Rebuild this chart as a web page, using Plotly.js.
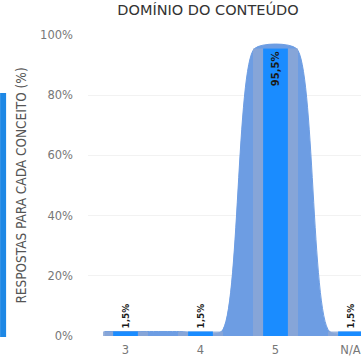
<!DOCTYPE html>
<html><head><meta charset="utf-8">
<script src="https://cdn.plot.ly/plotly-3.0.1.min.js"></script>
<style>html,body{margin:0;padding:0;overflow:hidden;background:#fff;width:361px;height:364px}#c{width:400px;height:364px}</style>
</head><body><div id="c"></div>
<script>
const categories = ['3', '4', '5', 'N/A'];
const values = [1.5, 1.5, 95.5, 1.5];
const yTicks = [0, 20, 40, 60, 80, 100];
const yTickLabels = ['0%', '20%', '40%', '60%', '80%', '100%'];

const idx = categories.map((c, i) => i);
function plateau(half) {
  const xs = [], ys = [];
  idx.forEach((i) => { xs.push(i - half, i + half); ys.push(values[i], values[i]); });
  return {x: xs, y: ys};
}
const outer = plateau(0.28);
const labels = values.map(v => v.toString().replace('.', ',') + '%');

const font = "'DejaVu Sans', sans-serif";
const cond = "'DejaVu Sans Condensed', 'DejaVu Sans', sans-serif";
const lblFont = {family: font, size: 10, color: '#1a1a1a', weight: 700};
const traces = [
  {type: 'scatter', mode: 'lines', x: outer.x, y: outer.y, fill: 'tozeroy',
   line: {shape: 'spline', smoothing: 0.6, color: '#6d9de3', width: 1}, fillcolor: '#6d9de3', hoverinfo: 'skip'},
  {type: 'bar', x: idx, y: values, width: 0.6, xaxis: 'x2', yaxis: 'y2', marker: {color: 'rgba(139,167,214,0.85)'}, hoverinfo: 'skip'},
  {type: 'bar', x: idx, y: values, width: 0.33, xaxis: 'x2', yaxis: 'y2', marker: {color: '#1a8cff'},
   text: labels, textposition: 'auto', textangle: -90, insidetextanchor: 'end',
   textfont: lblFont, outsidetextfont: lblFont, insidetextfont: lblFont,
   cliponaxis: false}
];
const layout = {
  width: 400, height: 364,
  margin: {l: 88, r: 12, t: 35, b: 28},
  showlegend: false, barmode: 'overlay',
  paper_bgcolor: '#fff', plot_bgcolor: '#fff',
  title: {text: 'DOMÍNIO DO CONTEÚDO', x: 0.52, xref: 'container', xanchor: 'center', y: 0.972, yref: 'container', yanchor: 'middle',
          font: {family: font, size: 14.5, color: '#333', weight: 400}},
  xaxis: {range: [-0.5, 3.5], tickvals: idx, ticktext: categories, showgrid: false, zeroline: false,
          ticks: '', ticklabelstandoff: 5, tickfont: {family: font, size: 11.5, color: '#777'}, fixedrange: true},
  yaxis: {range: [0, 100], tickvals: yTicks, ticktext: yTickLabels, showgrid: true, gridcolor: '#f2f2f2', zeroline: false,
          ticks: '', ticklabelstandoff: 14, tickfont: {family: font, size: 11.5, color: '#777'},
          title: {text: 'RESPOSTAS PARA CADA CONCEITO (%)', standoff: 10, font: {family: cond, size: 13.5, color: '#555'}}},
  xaxis2: {overlaying: 'x', matches: 'x', range: [-0.5, 3.5], visible: false},
  yaxis2: {overlaying: 'y', matches: 'y', range: [0, 100], visible: false},
  shapes: [{type: 'rect', xref: 'paper', yref: 'paper', x0: -0.293, x1: -0.273, y0: -0.003, y1: 0.807,
            fillcolor: '#1e88e5', line: {width: 0}}]
};
Plotly.newPlot('c', traces, layout, {displayModeBar: false, staticPlot: true});
</script></body></html>
